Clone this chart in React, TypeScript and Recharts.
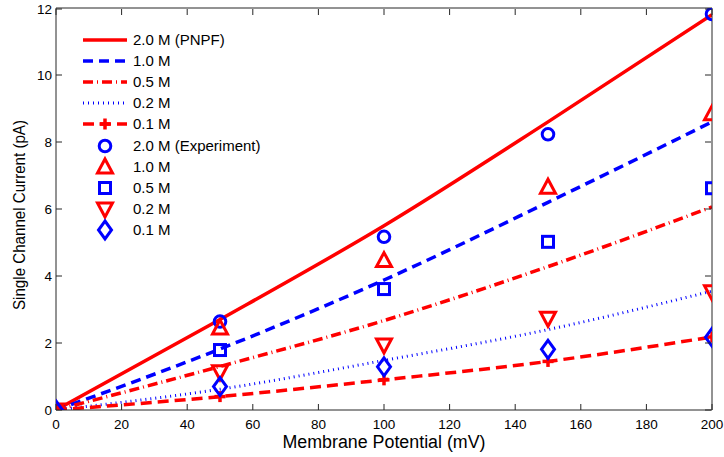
import React from "react";
import {
  ComposedChart,
  Line,
  XAxis,
  YAxis,
} from "recharts";

// membrane potential (mV)
const potentials = [0, 50, 100, 150, 200];

// PNPF model currents (pA)
const model20 = [0, 2.7, 5.5, 8.6, 11.8];
const model10 = [0, 1.82, 3.88, 6.2, 8.6];
const model05 = [0, 1.3, 2.67, 4.28, 6.06];
const model02 = [0, 0.62, 1.48, 2.4, 3.55];
const model01 = [0, 0.4, 0.9, 1.45, 2.18];

// experiment currents (pA)
const exp20 = [0, 2.64, 5.17, 8.23, 11.82];
const exp10 = [0, 2.45, 4.46, 6.65, 8.84];
const exp05 = [0, 1.79, 3.61, 5.02, 6.62];
const exp02 = [0, 1.14, 1.94, 2.74, 3.53];
const exp01 = [0, 0.7, 1.29, 1.81, 2.17];

const xTicks = [0, 20, 40, 60, 80, 100, 120, 140, 160, 180, 200];
const yTicks = [0, 2, 4, 6, 8, 10, 12];

const data = potentials.map((v, i) => ({
  v,
  m20: model20[i],
  m10: model10[i],
  m05: model05[i],
  m02: model02[i],
  m01: model01[i],
  e20: exp20[i],
  e10: exp10[i],
  e05: exp05[i],
  e02: exp02[i],
  e01: exp01[i],
}));

const RED = "#ff0000";
const BLUE = "#0000ff";
const AXIS = "#262626";
const FONT = "'Liberation Sans', Arial, sans-serif";

type Shape = "circle" | "tri" | "square" | "itri" | "diamond" | "plus";

const Marker = ({ shape, cx, cy }: { shape: Shape; cx: number; cy: number }) => {
  const sw = 3;
  switch (shape) {
    case "circle":
      return <circle cx={cx} cy={cy} r={5.8} fill="none" stroke={BLUE} strokeWidth={sw} />;
    case "tri":
      return (
        <polygon
          points={`${cx},${cy - 8} ${cx + 7.5},${cy + 6} ${cx - 7.5},${cy + 6}`}
          fill="none"
          stroke={RED}
          strokeWidth={sw}
        />
      );
    case "itri":
      return (
        <polygon
          points={`${cx},${cy + 8} ${cx + 7.5},${cy - 6} ${cx - 7.5},${cy - 6}`}
          fill="none"
          stroke={RED}
          strokeWidth={sw}
        />
      );
    case "square":
      return (
        <rect x={cx - 5.5} y={cy - 5.5} width={11} height={11} fill="none" stroke={BLUE} strokeWidth={sw} />
      );
    case "diamond":
      return (
        <polygon
          points={`${cx},${cy - 9} ${cx + 6.5},${cy} ${cx},${cy + 9} ${cx - 6.5},${cy}`}
          fill="none"
          stroke={BLUE}
          strokeWidth={sw}
        />
      );
    default:
      return (
        <g stroke={RED} strokeWidth={3.5}>
          <line x1={cx - 5.5} x2={cx + 5.5} y1={cy} y2={cy} />
          <line x1={cx} x2={cx} y1={cy - 5.5} y2={cy + 5.5} />
        </g>
      );
  }
};

const dotFor = (shape: Shape) => (p: any) => {
  if (p.cx == null || p.cy == null) return <g key={p.index} />;
  return (
    <g key={`${shape}-${p.index}`}>
      <Marker shape={shape} cx={p.cx} cy={p.cy} />
    </g>
  );
};

const lineRows = [
  { label: "2.0 M (PNPF)", color: RED, dash: undefined, width: 3.5 },
  { label: "1.0 M", color: BLUE, dash: "10 6", width: 3.5 },
  { label: "0.5 M", color: RED, dash: "10 4 1 4", width: 3.5 },
  { label: "0.2 M", color: BLUE, dash: "1 4", width: 3 },
  { label: "0.1 M", color: RED, dash: "11 6", width: 3.5, plus: true },
];
const markRows: { label: string; shape: Shape }[] = [
  { label: "2.0 M (Experiment)", shape: "circle" },
  { label: "1.0 M", shape: "tri" },
  { label: "0.5 M", shape: "square" },
  { label: "0.2 M", shape: "itri" },
  { label: "0.1 M", shape: "diamond" },
];

const LegendBox = () => {
  const rowH = 21;
  return (
    <svg width={200} height={215} style={{ display: "block" }}>
      {lineRows.map((r, i) => {
        const y = 10 + i * rowH;
        return (
          <g key={r.label}>
            <line x1={1} x2={45} y1={y} y2={y} stroke={r.color} strokeWidth={r.width} strokeDasharray={r.dash} />
            {r.plus && <Marker shape="plus" cx={23} cy={y} />}
            <text x={51} y={y} dy="0.36em" fontSize={15} fontFamily={FONT} fill="#000">
              {r.label}
            </text>
          </g>
        );
      })}
      {markRows.map((r, i) => {
        const y = 10 + (i + 5) * rowH + 1;
        return (
          <g key={r.label + i}>
            <Marker shape={r.shape} cx={23} cy={y} />
            <text x={51} y={y} dy="0.36em" fontSize={15} fontFamily={FONT} fill="#000">
              {r.label}
            </text>
          </g>
        );
      })}
    </svg>
  );
};

const BottomTick = (p: any) => (
  <g>
    <line x1={p.x} x2={p.x} y1={p.y} y2={p.y - 6} stroke={AXIS} />
    <text x={p.x} y={p.y + 19} textAnchor="middle" fontSize={13.5} fontFamily={FONT} fill="#000">
      {p.payload.value}
    </text>
  </g>
);
const TopTick = (p: any) => (
  <line x1={p.x} x2={p.x} y1={p.y + 1} y2={p.y + 7} stroke={AXIS} />
);
const LeftTick = (p: any) => (
  <g>
    <line x1={p.x} x2={p.x + 6} y1={p.y} y2={p.y} stroke={AXIS} />
    <text x={p.x - 4} y={p.y} dy="0.36em" textAnchor="end" fontSize={13.5} fontFamily={FONT} fill="#000">
      {p.payload.value}
    </text>
  </g>
);
const RightTick = (p: any) => (
  <line x1={p.x - 1} x2={p.x - 7} y1={p.y} y2={p.y} stroke={AXIS} />
);

const XTitle = (p: any) => {
  const vb = p.viewBox;
  return (
    <text
      x={vb.x + vb.width / 2}
      y={vb.y + 38}
      textAnchor="middle"
      fontSize={18}
      fontFamily={FONT}
      fill="#000"
      textLength={203}
      lengthAdjust="spacingAndGlyphs"
    >
      Membrane Potential (mV)
    </text>
  );
};

const YTitle = (p: any) => {
  const vb = p.viewBox;
  const cx = 25;
  const cy = vb.y + vb.height / 2 + 6;
  return (
    <text
      x={cx}
      y={cy}
      transform={`rotate(-90, ${cx}, ${cy})`}
      textAnchor="middle"
      fontSize={16}
      fontFamily={FONT}
      fill="#000"
      textLength={190}
      lengthAdjust="spacingAndGlyphs"
    >
      Single Channel Current (pA)
    </text>
  );
};

export default function App() {
  return (
    <div style={{ position: "absolute", left: 0, top: 0, width: 724, height: 457, background: "#fff" }}>
      <ComposedChart
        width={724}
        height={457}
        data={data}
        margin={{ top: 7, right: 11, bottom: 0, left: 0 }}
      >
        <XAxis
          dataKey="v"
          type="number"
          domain={[0, 200]}
          ticks={xTicks}
          allowDataOverflow
          height={47}
          tickSize={0}
          tickMargin={0}
          tick={<BottomTick />}
          axisLine={{ stroke: AXIS }}
          label={<XTitle />}
        />
        <XAxis
          xAxisId="top"
          orientation="top"
          dataKey="v"
          type="number"
          domain={[0, 200]}
          ticks={xTicks}
          allowDataOverflow
          height={1}
          tickSize={0}
          tickMargin={0}
          tick={<TopTick />}
          axisLine={{ stroke: AXIS }}
        />
        <YAxis
          type="number"
          domain={[0, 12]}
          ticks={yTicks}
          allowDataOverflow
          width={56}
          tickSize={0}
          tickMargin={0}
          tick={<LeftTick />}
          axisLine={{ stroke: AXIS }}
          label={<YTitle />}
        />
        <YAxis
          yAxisId="right"
          orientation="right"
          type="number"
          domain={[0, 12]}
          ticks={yTicks}
          allowDataOverflow
          width={1}
          tickSize={0}
          tickMargin={0}
          tick={<RightTick />}
          axisLine={{ stroke: AXIS }}
        />
        {/* invisible series so the top and right frame axes get drawn */}
        <Line xAxisId="top" yAxisId="right" dataKey="m20" stroke="none" dot={false} activeDot={false} isAnimationActive={false} />
        <Line type="monotone" dataKey="m20" stroke={RED} strokeWidth={3.5} dot={false} activeDot={false} isAnimationActive={false} />
        <Line type="monotone" dataKey="m10" stroke={BLUE} strokeWidth={3.5} strokeDasharray="10 6" dot={false} activeDot={false} isAnimationActive={false} />
        <Line type="monotone" dataKey="m05" stroke={RED} strokeWidth={3.5} strokeDasharray="10 4 1 4" dot={false} activeDot={false} isAnimationActive={false} />
        <Line type="monotone" dataKey="m02" stroke={BLUE} strokeWidth={3} strokeDasharray="1 4" dot={false} activeDot={false} isAnimationActive={false} />
        <Line type="monotone" dataKey="m01" stroke={RED} strokeWidth={3.5} strokeDasharray="11 6" dot={dotFor("plus")} activeDot={false} isAnimationActive={false} />
        <Line dataKey="e20" stroke="none" dot={dotFor("circle")} activeDot={false} isAnimationActive={false} />
        <Line dataKey="e10" stroke="none" dot={dotFor("tri")} activeDot={false} isAnimationActive={false} />
        <Line dataKey="e05" stroke="none" dot={dotFor("square")} activeDot={false} isAnimationActive={false} />
        <Line dataKey="e02" stroke="none" dot={dotFor("itri")} activeDot={false} isAnimationActive={false} />
        <Line dataKey="e01" stroke="none" dot={dotFor("diamond")} activeDot={false} isAnimationActive={false} />
      </ComposedChart>
      <div style={{ position: "absolute", left: 82, top: 30 }}>
        <LegendBox />
      </div>
    </div>
  );
}
